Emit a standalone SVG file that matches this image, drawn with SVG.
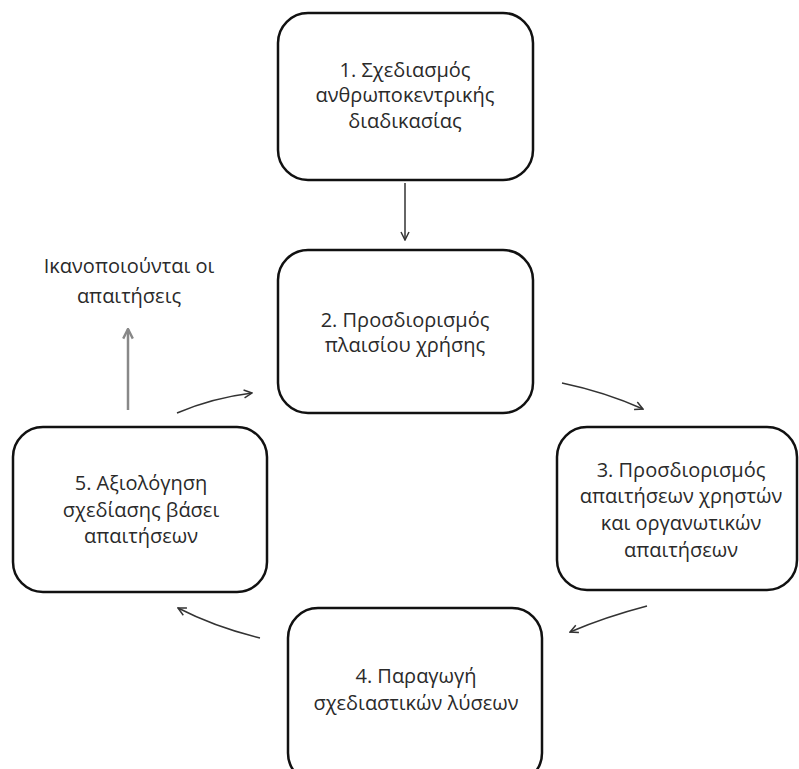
<svg xmlns="http://www.w3.org/2000/svg" width="799" height="769" viewBox="0 0 799 769">
<defs>
<style>
.box{fill:#fff;stroke:#111;stroke-width:2.5}
.t{font-family:"Open Sans","DejaVu Sans",sans-serif;font-size:20px;fill:#2a2a2a;text-anchor:middle}
.c{fill:none;stroke:#333;stroke-width:1.5}
.g{fill:none;stroke:#888;stroke-width:2.5}
</style>
<marker id="ah" viewBox="0 0 10 10" refX="9" refY="5" markerWidth="10" markerHeight="10" markerUnits="userSpaceOnUse" orient="auto">
<path d="M1,1 L9,5 L1,9" fill="none" stroke="#333" stroke-width="1.5"/>
</marker>
<marker id="ahg" viewBox="0 0 10 10" refX="9" refY="5" markerWidth="12" markerHeight="12" markerUnits="userSpaceOnUse" orient="auto">
<path d="M1,1 L9,5 L1,9" fill="none" stroke="#888" stroke-width="2"/>
</marker>
</defs>
<rect width="799" height="769" fill="#fff"/>
<g id="connectors">
<line class="c" x1="405" y1="183" x2="405" y2="240" marker-end="url(#ah)"/>
<path class="c" d="M562,383 Q605,392 643,409" marker-end="url(#ah)"/>
<path class="c" d="M647,606 Q605,617 570,632" marker-end="url(#ah)"/>
<path class="c" d="M260,638 Q215,627 178,608" marker-end="url(#ah)"/>
<path class="c" d="M177,413 Q212,398 252,393" marker-end="url(#ah)"/>
<line class="g" x1="128" y1="410" x2="128" y2="329" marker-end="url(#ahg)"/>
</g>
<g id="n1">
<rect class="box" x="278" y="13" width="255" height="167" rx="30"/>
<text class="t" x="405" y="77">1. Σχεδιασμός</text>
<text class="t" x="405" y="102">ανθρωποκεντρικής</text>
<text class="t" x="405" y="128">διαδικασίας</text>
</g>
<g id="n2">
<rect class="box" x="278" y="250" width="255" height="163" rx="30"/>
<text class="t" x="405" y="327">2. Προσδιορισμός</text>
<text class="t" x="405" y="352">πλαισίου χρήσης</text>
</g>
<g id="n3">
<rect class="box" x="557" y="427" width="240" height="163" rx="30"/>
<text class="t" x="681" y="477">3. Προσδιορισμός</text>
<text class="t" x="681" y="503">απαιτήσεων χρηστών</text>
<text class="t" x="681" y="530">και οργανωτικών</text>
<text class="t" x="681" y="557">απαιτήσεων</text>
</g>
<g id="n4">
<rect class="box" x="288" y="608" width="254" height="175" rx="30"/>
<text class="t" x="416" y="683">4. Παραγωγή</text>
<text class="t" x="416" y="710">σχεδιαστικών λύσεων</text>
</g>
<g id="n5">
<rect class="box" x="13" y="427" width="254" height="165" rx="30"/>
<text class="t" x="141" y="490">5. Αξιολόγηση</text>
<text class="t" x="141" y="517">σχεδίασης βάσει</text>
<text class="t" x="141" y="543">απαιτήσεων</text>
</g>
<g id="outcome">
<text class="t" x="129" y="273">Ικανοποιούνται οι</text>
<text class="t" x="129" y="303">απαιτήσεις</text>
</g>
</svg>
